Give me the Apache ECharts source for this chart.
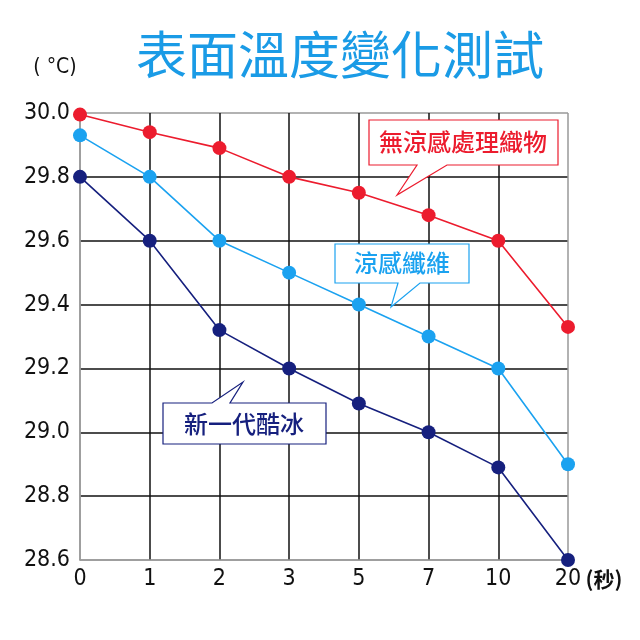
<!DOCTYPE html>
<html>
<head>
<meta charset="utf-8">
<script src="https://cdn.jsdelivr.net/npm/echarts@6/dist/echarts.min.js"></script>
<style>
  html, body { margin: 0; padding: 0; background: #fff; }
  #chart { width: 640px; height: 640px; }
</style>
</head>
<body>
<div id="chart"></div>
<script>
const categories = ['0', '1', '2', '3', '5', '7', '10', '20'];
const noCoolingData = [29.995, 29.94, 29.89, 29.80, 29.75, 29.68, 29.60, 29.33];
const coolFiberData = [29.93, 29.80, 29.60, 29.50, 29.40, 29.30, 29.20, 28.90];
const newCoolData = [29.80, 29.60, 29.32, 29.20, 29.09, 29.00, 28.89, 28.60];

const RED = '#ec1c2e';
const BLUE = '#1ba2f0';
const NAVY = '#16207e';
const labelFont = '"DejaVu Sans Condensed", "DejaVu Sans", sans-serif';
const cjkFont = '"Noto Sans CJK TC", sans-serif';

const chart = echarts.init(document.getElementById('chart'));

function makeSeries(name, data, color) {
  return {
    name: name,
    type: 'line',
    data: data,
    symbol: 'circle',
    symbolSize: 14,
    itemStyle: { color: color },
    lineStyle: { color: color, width: 1.6 },
    animation: false
  };
}

// 對話框 (callout)
function bubble(points, cx, cy, text, color) {
  return {
    type: 'group',
    children: [
      {
        type: 'polygon',
        shape: { points: points },
        style: { fill: '#fff', stroke: color, lineWidth: 1.2 },
        z: 10
      },
      {
        type: 'text',
        x: cx,
        y: cy,
        style: {
          text: text,
          fill: color,
          font: '500 24px ' + cjkFont,
          align: 'center',
          verticalAlign: 'middle'
        },
        z: 11
      }
    ]
  };
}

chart.setOption({
  backgroundColor: '#fff',
  animation: false,
  title: {
    text: '表面溫度變化測試',
    left: 335,
    top: 24,
    textAlign: 'center',
    textStyle: {
      color: '#1a9be6',
      fontSize: 51,
      fontWeight: 'normal',
      fontFamily: cjkFont
    }
  },
  grid: {
    left: 80,
    right: 72,
    top: 113,
    bottom: 80
  },
  xAxis: {
    type: 'category',
    data: categories,
    boundaryGap: false,
    axisLine: { lineStyle: { color: '#999', width: 1.5 } },
    axisTick: { show: false },
    axisLabel: {
      color: '#111',
      fontSize: 23,
      fontFamily: labelFont,
      margin: 8
    },
    splitLine: {
      show: true,
      lineStyle: {
        color: ['#999', '#111', '#111', '#111', '#111', '#111', '#111', '#999'],
        width: 1.5
      }
    }
  },
  yAxis: {
    type: 'value',
    min: 28.6,
    max: 30.0,
    interval: 0.2,
    axisLine: { show: true, lineStyle: { color: '#999', width: 1.5 } },
    axisTick: { show: false },
    axisLabel: {
      color: '#111',
      fontSize: 23,
      fontFamily: labelFont,
      margin: 10,
      formatter: v => v.toFixed(1)
    },
    splitLine: {
      lineStyle: {
        color: ['#999', '#111', '#111', '#111', '#111', '#111', '#111', '#999'],
        width: 1.5
      }
    }
  },
  series: [
    makeSeries('無涼感處理織物', noCoolingData, RED),
    makeSeries('涼感纖維', coolFiberData, BLUE),
    makeSeries('新一代酷冰', newCoolData, NAVY)
  ],
  graphic: [
    {
      type: 'text',
      x: 55, y: 68,
      style: { text: '( °C)', fill: '#111', font: '21px ' + labelFont, align: 'center', verticalAlign: 'middle' }
    },
    {
      type: 'text',
      x: 604, y: 579,
      style: { text: '(秒)', fill: '#111', font: 'bold 21px ' + cjkFont, align: 'center', verticalAlign: 'middle' }
    },
    bubble([[369, 120], [558, 120], [558, 165], [447, 165], [397, 195], [417, 165], [369, 165]],
      463, 142, '無涼感處理織物', RED),
    bubble([[335, 244], [469, 244], [469, 283], [420, 283], [391, 307], [398, 283], [335, 283]],
      402, 263, '涼感纖維', BLUE),
    bubble([[163, 403], [212, 403], [243, 382], [230, 403], [326, 403], [326, 444], [163, 444]],
      244, 424, '新一代酷冰', NAVY)
  ]
});
</script>
</body>
</html>
